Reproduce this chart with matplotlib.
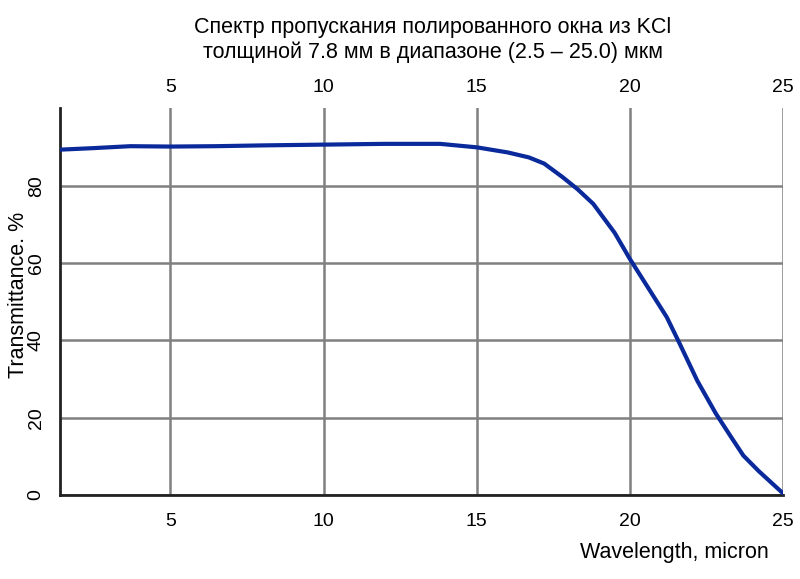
import matplotlib.pyplot as plt
import numpy as np

plt.rcParams['font.family'] = ['Liberation Sans', 'DejaVu Sans']

# transmission spectrum
wavelength = [1.4, 2.5, 3.7, 5.0, 6.5, 8.0, 10.0, 12.0, 13.8, 15.0, 16.0,
              16.7, 17.2, 17.8, 18.3, 18.8, 19.5, 20.0, 20.6, 21.2, 21.6,
              22.2, 22.8, 23.3, 23.7, 24.2, 24.6, 25.0]
transmittance = [89.3, 89.7, 90.2, 90.1, 90.2, 90.4, 90.6, 90.8, 90.8, 89.9, 88.6,
                 87.3, 85.7, 82.2, 79.0, 75.3, 67.8, 61.0, 53.5, 46.0, 39.5,
                 29.5, 21.1, 15.0, 10.2, 6.2, 3.3, 0.4]
x_ticks = [5, 10, 15, 20, 25]
y_ticks = [0, 20, 40, 60, 80]

fig = plt.figure(figsize=(8, 5.79), dpi=100)
ax = fig.add_axes([0.075, 0.145, 0.904, 0.668])

ax.plot(wavelength, transmittance, color='#0a2a9c', linewidth=3, zorder=3)

ax.set_xlim(1.4, 25)
ax.set_ylim(0, 100)
ax.set_xticks(x_ticks)
ax.set_yticks(y_ticks)
ax.grid(True, color='#808080', linewidth=1.8)
ax.set_axisbelow(True)

for s in ['top', 'right']:
    ax.spines[s].set_visible(False)
for s in ['left', 'bottom']:
    ax.spines[s].set_color('#222222')
    ax.spines[s].set_linewidth(2)

ax.tick_params(axis='x', length=0, pad=13, labelsize=14)
ax.tick_params(axis='y', length=0, pad=11, labelsize=14)
for lbl in ax.get_yticklabels():
    lbl.set_rotation(90)
    lbl.set_va('center')

top = ax.secondary_xaxis('top')
top.set_xticks(x_ticks)
top.tick_params(length=0, pad=9, labelsize=14)
top.spines['top'].set_visible(False)

fig.text(0.541, 0.971, "Спектр пропускания полированного окна из KCl\nтолщиной 7.8 мм в диапазоне (2.5 – 25.0) мкм",
         ha='center', va='top', fontsize=15.5, linespacing=1.2)
fig.text(0.023, 0.49, "Transmittance. %", rotation=90, ha='center', va='center', fontsize=15.5)
fig.text(0.843, 0.045, "Wavelength, micron", ha='center', va='center', fontsize=15.5)

plt.savefig('out.png', dpi=100)
